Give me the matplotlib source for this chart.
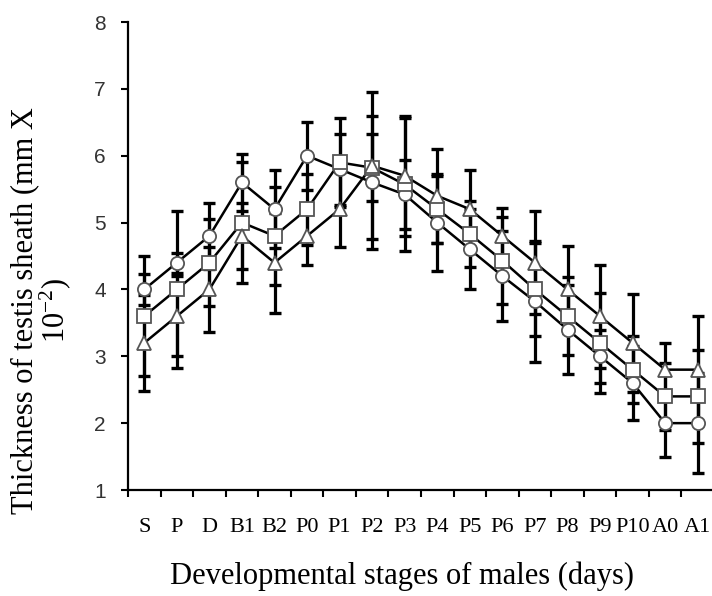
import matplotlib
matplotlib.use("Agg")
import matplotlib.pyplot as plt
import numpy as np

plt.rcParams["mathtext.fontset"] = "custom"
plt.rcParams["mathtext.rm"] = "Liberation Serif"
plt.rcParams["mathtext.it"] = "Liberation Serif:italic"

categories = ["S", "P", "D", "B1", "B2", "P0", "P1", "P2", "P3", "P4",
              "P5", "P6", "P7", "P8", "P9", "P10", "A0", "A1"]

circle_vals = [4.0, 4.4, 4.8, 5.6, 5.2, 6.0, 5.8, 5.6, 5.42, 5.0,
               4.6, 4.2, 3.82, 3.4, 3.0, 2.6, 2.0, 2.0]
circle_err = [0.23, 0.15, 0.5, 0.43, 0.58, 0.51, 0.53, 1.0, 0.52, 0.73,
              0.6, 0.67, 0.9, 0.67, 0.4, 0.56, 0.5, 0.75]

square_vals = [3.6, 4.0, 4.4, 5.0, 4.8, 5.2, 5.9, 5.82, 5.57, 5.2,
               4.83, 4.43, 4.0, 3.6, 3.2, 2.8, 2.4, 2.4]
square_err = [0.9, 1.17, 0.65, 0.9, 0.73, 0.53, 0.67, 0.5, 1.0, 0.5,
              0.5, 0.65, 0.7, 0.58, 0.75, 0.5, 0.5, 0.7]

triangle_vals = [3.2, 3.6, 4.0, 4.8, 4.4, 4.8, 5.2, 5.85, 5.7, 5.4,
                 5.2, 4.8, 4.4, 4.0, 3.6, 3.2, 2.8, 2.8]
triangle_err = [0.72, 0.6, 0.63, 0.5, 0.75, 0.43, 0.56, 1.1, 0.9, 0.7,
                0.58, 0.42, 0.77, 0.65, 0.77, 0.73, 0.4, 0.8]

yticks = [1, 2, 3, 4, 5, 6, 7, 8]

fig = plt.figure(figsize=(7.12, 5.96), dpi=100)
ax = fig.add_axes([128 / 712, 106 / 596, 586 / 712, 468 / 596])

x = np.arange(len(categories)) + 0.5

series = [
    (circle_vals, circle_err, "o", 9.5),
    (square_vals, square_err, "s", 10),
    (triangle_vals, triangle_err, "^", 10.5),
]

for vals, err, mk, ms in series:
    ax.errorbar(x, vals, yerr=err, fmt="none", ecolor="black",
                elinewidth=2.3, capsize=4.5, capthick=2.4, zorder=2)
for vals, err, mk, ms in series:
    ax.plot(x, vals, color="black", linewidth=1.8, zorder=3)
for vals, err, mk, ms in series:
    ax.plot(x, vals, linestyle="none", marker=mk, markersize=ms,
            markerfacecolor="white", markeredgecolor="#555555",
            markeredgewidth=1.3, zorder=4)

ax.set_xlim(0, 18)
ax.set_ylim(1, 8)

ax.set_xticks(np.arange(0, 18))
ax.set_xticklabels([])
ax.set_xticks(x, minor=True)
ax.set_xticklabels(categories, minor=True, fontfamily="Liberation Serif",
                   fontsize=16)
ax.tick_params(axis="x", which="major", direction="out", length=5,
               width=1.5, color="black")
ax.tick_params(axis="x", which="minor", length=0, pad=20)

ax.set_yticks(yticks)
ax.set_yticklabels([str(v) for v in yticks], fontfamily="Liberation Sans",
                   fontsize=15, color="#333333")
ax.tick_params(axis="y", direction="out", length=5, width=1.5, pad=11)

for side in ["top", "right"]:
    ax.spines[side].set_visible(False)
for side in ["left", "bottom"]:
    ax.spines[side].set_linewidth(1.6)
    ax.spines[side].set_color("black")

fig.text(402 / 712, 1 - 576 / 596, "Developmental stages of males (days)",
         ha="center", va="center", fontfamily="Liberation Serif", fontsize=22)
fig.text(42 / 712, 1 - 311 / 596,
         "Thickness of testis sheath (mm X\n10$^{-2}$)",
         ha="center", va="center", rotation=90, multialignment="center",
         fontfamily="Liberation Serif", fontsize=22, linespacing=0.92)

fig.savefig("out.png", dpi=100)
